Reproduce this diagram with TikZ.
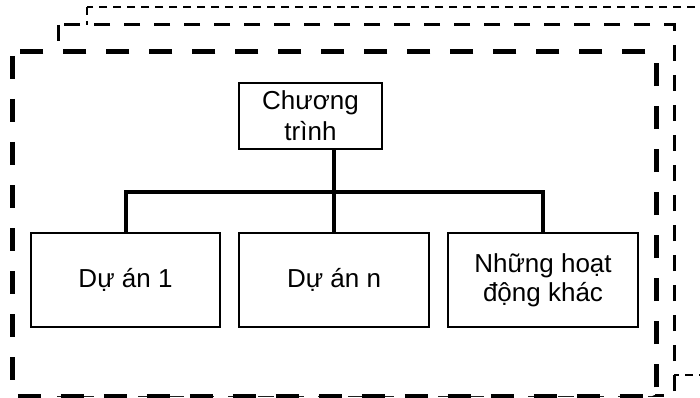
\documentclass[tikz,border=0pt]{standalone}
\usepackage{fontspec}
\setmainfont{Liberation Sans}
\begin{document}
\begin{tikzpicture}[x=1pt,y=-1pt,
  backbox/.style={draw=black,line width=1.5pt,dash pattern=on 8pt off 6pt},
  midbox/.style={draw=black,fill=white,line width=3pt,dash pattern=on 16pt off 14pt},
  frontbox/.style={draw=black,fill=white,line width=5pt,dash pattern=on 23pt off 20pt,rounded corners=4pt},
  unit/.style={draw=black,line width=1.2pt,fill=white,align=center,inner sep=2pt,
    font=\fontsize{26}{29}\selectfont},
  conn/.style={draw=black,line width=4pt}]
\useasboundingbox (0,0) rectangle (700,398);
\draw[backbox] (87,7) rectangle (730,375);
\draw[midbox] (58,25) rectangle (674,395);
\draw[frontbox] (12,52) rectangle (656,396);
\node[unit,minimum width=143pt,minimum height=66pt] (top) at (310.5,116) {Chương\\[2pt]trình};
\node[unit,minimum width=189pt,minimum height=94pt] (a) at (125.5,280) {Dự án 1};
\node[unit,minimum width=190pt,minimum height=94pt] (b) at (334,280) {Dự án n};
\node[unit,minimum width=190pt,minimum height=94pt] (c) at (543,280) {Những hoạt\\động khác};
\coordinate (bus) at (334,192);
\draw[conn] (top.south -| b.north) -- (b.north);
\draw[conn] (a.north) |- (c.north |- bus) -- (c.north);
\end{tikzpicture}
\end{document}
